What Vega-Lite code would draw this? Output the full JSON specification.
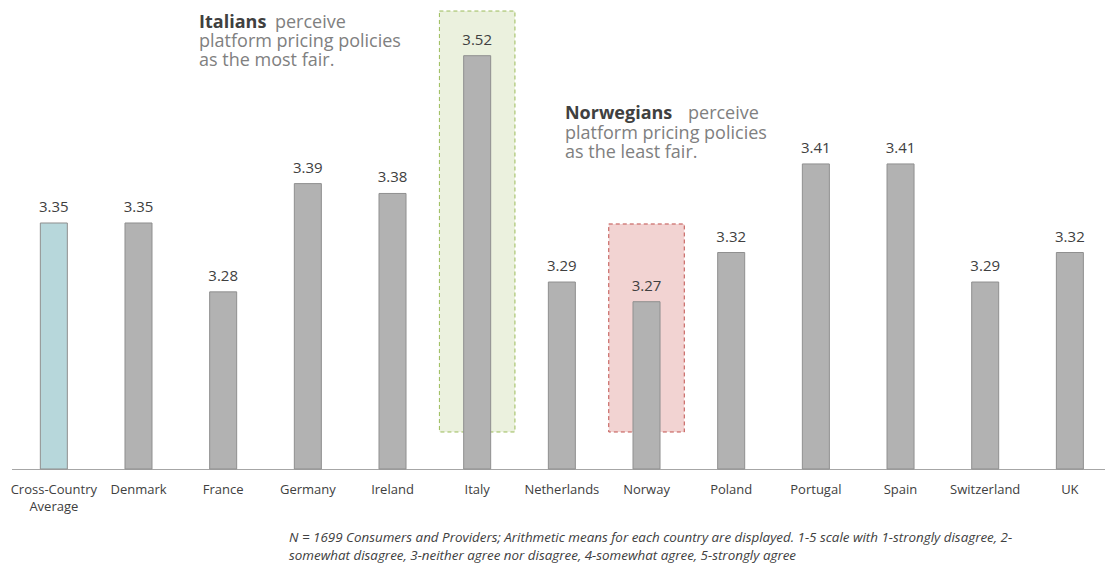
{
  "$schema": "https://vega.github.io/schema/vega-lite/v6.json",
  "width": 1093.5,
  "height": 469,
  "autosize": {"type": "none"},
  "padding": {"left": 11.5, "top": 0, "right": 0, "bottom": 96},
  "background": "white",
  "config": {
    "view": {"stroke": null},
    "font": "Open Sans",
    "axisX": {
      "labelAngle": 0, "ticks": false, "tickSize": 0, "labelPadding": 14,
      "labelFontSize": 13, "labelColor": "#404040", "labelLineHeight": 17,
      "domainColor": "#a6a6a6", "domainWidth": 1, "grid": false
    }
  },
  "datasets": {
    "bars": [
      {"country": "Cross-Country Average", "value": 3.35, "kind": "avg"},
      {"country": "Denmark", "value": 3.35, "kind": "country"},
      {"country": "France", "value": 3.28, "kind": "country"},
      {"country": "Germany", "value": 3.39, "kind": "country"},
      {"country": "Ireland", "value": 3.38, "kind": "country"},
      {"country": "Italy", "value": 3.52, "kind": "country"},
      {"country": "Netherlands", "value": 3.29, "kind": "country"},
      {"country": "Norway", "value": 3.27, "kind": "country"},
      {"country": "Poland", "value": 3.32, "kind": "country"},
      {"country": "Portugal", "value": 3.41, "kind": "country"},
      {"country": "Spain", "value": 3.41, "kind": "country"},
      {"country": "Switzerland", "value": 3.29, "kind": "country"},
      {"country": "UK", "value": 3.32, "kind": "country"}
    ],
    "boxes": [
      {"country": "Italy", "lo": 3.1376, "hi": 3.5654, "kind": "most"},
      {"country": "Norway", "lo": 3.1376, "hi": 3.349, "kind": "least"}
    ],
    "notes": [
      {"grp": "itB", "country": "France", "v": 3.5485, "t": "Italians"},
      {"grp": "itP", "country": "Germany", "v": 3.5485, "t": "perceive"},
      {"grp": "itR", "country": "France", "v": 3.5292, "t": "platform pricing policies"},
      {"grp": "itR", "country": "France", "v": 3.5099, "t": "as the most fair."},
      {"grp": "noB", "country": "Netherlands", "v": 3.4554, "t": "Norwegians"},
      {"grp": "noP", "country": "Norway", "v": 3.4554, "t": "perceive"},
      {"grp": "noR", "country": "Netherlands", "v": 3.4351, "t": "platform pricing policies"},
      {"grp": "noR", "country": "Netherlands", "v": 3.4158, "t": "as the least fair."},
      {"grp": "foot", "country": "Germany", "v": 3.0263, "t": "N = 1699 Consumers and Providers; Arithmetic means for each country are displayed. 1-5 scale with 1-strongly disagree, 2-"},
      {"grp": "foot", "country": "Germany", "v": 3.008, "t": "somewhat disagree, 3-neither agree nor disagree, 4-somewhat agree, 5-strongly agree"}
    ]
  },
  "layer": [
    {
      "data": {"name": "boxes"},
      "mark": {"type": "bar", "width": {"band": 0.892}, "strokeDash": [4, 3], "strokeWidth": 1},
      "encoding": {
        "x": {"field": "country", "type": "nominal", "title": null, "axis": {"labelExpr": "datum.label == 'Cross-Country Average' ? ['Cross-Country', 'Average'] : datum.label"}, "scale": {"domain": ["Cross-Country Average", "Denmark", "France", "Germany", "Ireland", "Italy", "Netherlands", "Norway", "Poland", "Portugal", "Spain", "Switzerland", "UK"], "range": [0, 1100.7], "paddingInner": 0, "paddingOuter": 0}},
        "y": {"field": "lo", "type": "quantitative", "scale": {"domain": [3.1, 3.5766], "nice": false, "zero": false}, "axis": null},
        "y2": {"field": "hi"},
        "fill": {"field": "kind", "type": "nominal", "scale": {"domain": ["avg", "country", "most", "least"], "range": ["#b7d7db", "#b2b2b2", "#ebf1de", "#f2d3d2"]}, "legend": null},
        "stroke": {"field": "kind", "type": "nominal", "scale": {"domain": ["most", "least"], "range": ["#9bbb59", "#c0504d"]}, "legend": null}
      }
    },
    {
      "data": {"name": "bars"},
      "mark": {"type": "bar", "width": {"band": 0.319}, "stroke": "#8f8f8f", "strokeWidth": 1},
      "encoding": {
        "x": {"field": "country", "type": "nominal", "title": null, "axis": {"labelExpr": "datum.label == 'Cross-Country Average' ? ['Cross-Country', 'Average'] : datum.label"}, "scale": {"domain": ["Cross-Country Average", "Denmark", "France", "Germany", "Ireland", "Italy", "Netherlands", "Norway", "Poland", "Portugal", "Spain", "Switzerland", "UK"], "range": [0, 1100.7], "paddingInner": 0, "paddingOuter": 0}},
        "y": {"field": "value", "type": "quantitative", "scale": {"domain": [3.1, 3.5766], "nice": false, "zero": false}, "axis": null},
        "y2": {"datum": 3.1},
        "fill": {"field": "kind", "type": "nominal", "scale": {"domain": ["avg", "country", "most", "least"], "range": ["#b7d7db", "#b2b2b2", "#ebf1de", "#f2d3d2"]}, "legend": null}
      }
    },
    {
      "data": {"name": "bars"},
      "mark": {"type": "text", "baseline": "bottom", "dy": -8, "fontSize": 15, "color": "#404040"},
      "encoding": {
        "x": {"field": "country", "type": "nominal", "title": null, "axis": {"labelExpr": "datum.label == 'Cross-Country Average' ? ['Cross-Country', 'Average'] : datum.label"}, "scale": {"domain": ["Cross-Country Average", "Denmark", "France", "Germany", "Ireland", "Italy", "Netherlands", "Norway", "Poland", "Portugal", "Spain", "Switzerland", "UK"], "range": [0, 1100.7], "paddingInner": 0, "paddingOuter": 0}},
        "y": {"field": "value", "type": "quantitative", "scale": {"domain": [3.1, 3.5766], "nice": false, "zero": false}, "axis": null},
        "text": {"field": "value", "type": "quantitative", "format": ".2f"}
      }
    },
    {
      "data": {"name": "notes"},
      "transform": [{"filter": "datum.grp == 'itB'"}],
      "mark": {"type": "text", "align": "left", "baseline": "alphabetic", "fontSize": 18, "fontWeight": "bold", "color": "#404040"},
      "encoding": {
        "x": {"field": "country", "type": "nominal", "bandPosition": 0.215, "title": null, "axis": {"labelExpr": "datum.label == 'Cross-Country Average' ? ['Cross-Country', 'Average'] : datum.label"}, "scale": {"domain": ["Cross-Country Average", "Denmark", "France", "Germany", "Ireland", "Italy", "Netherlands", "Norway", "Poland", "Portugal", "Spain", "Switzerland", "UK"], "range": [0, 1100.7], "paddingInner": 0, "paddingOuter": 0}},
        "y": {"field": "v", "type": "quantitative", "scale": {"domain": [3.1, 3.5766], "nice": false, "zero": false}, "axis": null},
        "text": {"field": "t", "type": "nominal"}
      }
    },
    {
      "data": {"name": "notes"},
      "transform": [{"filter": "datum.grp == 'itP'"}],
      "mark": {"type": "text", "align": "left", "baseline": "alphabetic", "fontSize": 18, "color": "#808080"},
      "encoding": {
        "x": {"field": "country", "type": "nominal", "bandPosition": 0.112, "title": null, "axis": {"labelExpr": "datum.label == 'Cross-Country Average' ? ['Cross-Country', 'Average'] : datum.label"}, "scale": {"domain": ["Cross-Country Average", "Denmark", "France", "Germany", "Ireland", "Italy", "Netherlands", "Norway", "Poland", "Portugal", "Spain", "Switzerland", "UK"], "range": [0, 1100.7], "paddingInner": 0, "paddingOuter": 0}},
        "y": {"field": "v", "type": "quantitative", "scale": {"domain": [3.1, 3.5766], "nice": false, "zero": false}, "axis": null},
        "text": {"field": "t", "type": "nominal"}
      }
    },
    {
      "data": {"name": "notes"},
      "transform": [{"filter": "datum.grp == 'itR'"}],
      "mark": {"type": "text", "align": "left", "baseline": "alphabetic", "fontSize": 18, "color": "#808080"},
      "encoding": {
        "x": {"field": "country", "type": "nominal", "bandPosition": 0.215, "title": null, "axis": {"labelExpr": "datum.label == 'Cross-Country Average' ? ['Cross-Country', 'Average'] : datum.label"}, "scale": {"domain": ["Cross-Country Average", "Denmark", "France", "Germany", "Ireland", "Italy", "Netherlands", "Norway", "Poland", "Portugal", "Spain", "Switzerland", "UK"], "range": [0, 1100.7], "paddingInner": 0, "paddingOuter": 0}},
        "y": {"field": "v", "type": "quantitative", "scale": {"domain": [3.1, 3.5766], "nice": false, "zero": false}, "axis": null},
        "text": {"field": "t", "type": "nominal"}
      }
    },
    {
      "data": {"name": "notes"},
      "transform": [{"filter": "datum.grp == 'noB'"}],
      "mark": {"type": "text", "align": "left", "baseline": "alphabetic", "fontSize": 18, "fontWeight": "bold", "color": "#404040"},
      "encoding": {
        "x": {"field": "country", "type": "nominal", "bandPosition": 0.537, "title": null, "axis": {"labelExpr": "datum.label == 'Cross-Country Average' ? ['Cross-Country', 'Average'] : datum.label"}, "scale": {"domain": ["Cross-Country Average", "Denmark", "France", "Germany", "Ireland", "Italy", "Netherlands", "Norway", "Poland", "Portugal", "Spain", "Switzerland", "UK"], "range": [0, 1100.7], "paddingInner": 0, "paddingOuter": 0}},
        "y": {"field": "v", "type": "quantitative", "scale": {"domain": [3.1, 3.5766], "nice": false, "zero": false}, "axis": null},
        "text": {"field": "t", "type": "nominal"}
      }
    },
    {
      "data": {"name": "notes"},
      "transform": [{"filter": "datum.grp == 'noP'"}],
      "mark": {"type": "text", "align": "left", "baseline": "alphabetic", "fontSize": 18, "color": "#808080"},
      "encoding": {
        "x": {"field": "country", "type": "nominal", "bandPosition": 0.99, "title": null, "axis": {"labelExpr": "datum.label == 'Cross-Country Average' ? ['Cross-Country', 'Average'] : datum.label"}, "scale": {"domain": ["Cross-Country Average", "Denmark", "France", "Germany", "Ireland", "Italy", "Netherlands", "Norway", "Poland", "Portugal", "Spain", "Switzerland", "UK"], "range": [0, 1100.7], "paddingInner": 0, "paddingOuter": 0}},
        "y": {"field": "v", "type": "quantitative", "scale": {"domain": [3.1, 3.5766], "nice": false, "zero": false}, "axis": null},
        "text": {"field": "t", "type": "nominal"}
      }
    },
    {
      "data": {"name": "notes"},
      "transform": [{"filter": "datum.grp == 'noR'"}],
      "mark": {"type": "text", "align": "left", "baseline": "alphabetic", "fontSize": 18, "color": "#808080"},
      "encoding": {
        "x": {"field": "country", "type": "nominal", "bandPosition": 0.537, "title": null, "axis": {"labelExpr": "datum.label == 'Cross-Country Average' ? ['Cross-Country', 'Average'] : datum.label"}, "scale": {"domain": ["Cross-Country Average", "Denmark", "France", "Germany", "Ireland", "Italy", "Netherlands", "Norway", "Poland", "Portugal", "Spain", "Switzerland", "UK"], "range": [0, 1100.7], "paddingInner": 0, "paddingOuter": 0}},
        "y": {"field": "v", "type": "quantitative", "scale": {"domain": [3.1, 3.5766], "nice": false, "zero": false}, "axis": null},
        "text": {"field": "t", "type": "nominal"}
      }
    },
    {
      "data": {"name": "notes"},
      "transform": [{"filter": "datum.grp == 'foot'"}],
      "mark": {"type": "text", "align": "left", "baseline": "alphabetic", "fontSize": 13.4, "fontStyle": "italic", "color": "#404040"},
      "encoding": {
        "x": {"field": "country", "type": "nominal", "bandPosition": 0.278, "title": null, "axis": {"labelExpr": "datum.label == 'Cross-Country Average' ? ['Cross-Country', 'Average'] : datum.label"}, "scale": {"domain": ["Cross-Country Average", "Denmark", "France", "Germany", "Ireland", "Italy", "Netherlands", "Norway", "Poland", "Portugal", "Spain", "Switzerland", "UK"], "range": [0, 1100.7], "paddingInner": 0, "paddingOuter": 0}},
        "y": {"field": "v", "type": "quantitative", "scale": {"domain": [3.1, 3.5766], "nice": false, "zero": false}, "axis": null},
        "text": {"field": "t", "type": "nominal"}
      }
    }
  ]
}
